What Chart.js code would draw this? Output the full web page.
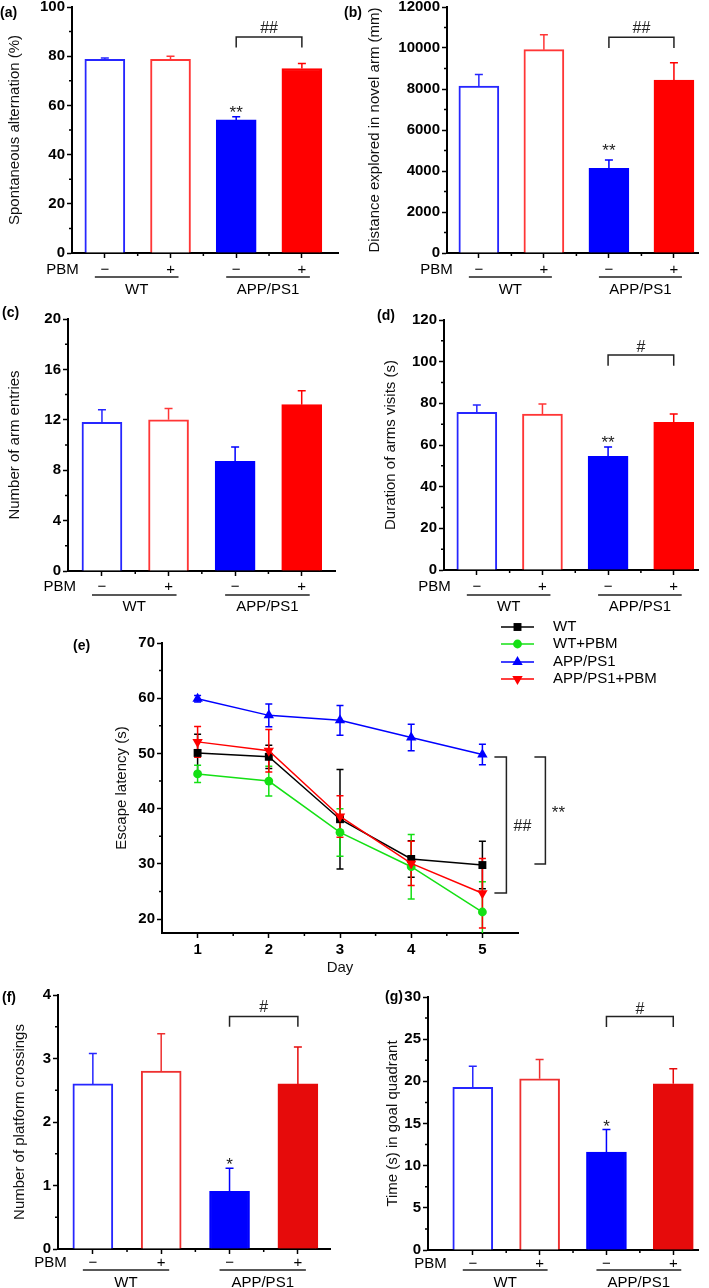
<!DOCTYPE html>
<html><head><meta charset="utf-8"><title>PBM behaviour</title>
<script src="https://cdn.jsdelivr.net/npm/chart.js@4.4.1/dist/chart.umd.min.js"></script>
<style>
html,body{margin:0;padding:0;background:#fff}
body{width:709px;height:1288px;position:relative;overflow:hidden}
canvas{position:absolute;display:block}
</style></head>
<body>
<canvas id="pa"></canvas><canvas id="pb"></canvas><canvas id="pc"></canvas><canvas id="pd"></canvas><canvas id="pe"></canvas><canvas id="pf"></canvas><canvas id="pg"></canvas>
<script>
// ---------------- data ----------------
const pbmTicks = ['\u2212', '+', '\u2212', '+'];
const genotypeGroups = ['WT', 'APP/PS1'];

const alternationMean = [78.7, 78.7, 54.1, 75.0];
const alternationSem  = [0.6, 1.3, 1.3, 2.0];
const distanceMean = [8140, 9920, 4135, 8430];
const distanceSem  = [570, 730, 405, 845];
const entriesMean = [11.8, 12.0, 8.7, 13.2];
const entriesSem  = [1.0, 0.9, 1.15, 1.1];
const durationMean = [75.7, 74.9, 54.6, 70.9];
const durationSem  = [3.5, 4.8, 4.4, 4.0];
const crossingsMean = [2.6, 2.8, 0.91, 2.6];
const crossingsSem  = [0.48, 0.59, 0.36, 0.58];
const quadrantMean = [19.3, 20.3, 11.6, 19.7];
const quadrantSem  = [2.5, 2.3, 2.7, 1.8];

const days = [1, 2, 3, 4, 5];
const seriesNames = ['WT', 'WT+PBM', 'APP/PS1', 'APP/PS1+PBM'];
const latencyWT       = [50.1, 49.4, 38.1, 30.9, 29.8];
const latencyWTSem    = [3.4, 2.1, 9.0, 3.3, 4.3];
const latencyWTPBM    = [46.3, 45.0, 35.7, 29.5, 21.3];
const latencyWTPBMSem = [1.55, 2.7, 4.3, 5.85, 5.5];
const latencyAPP      = [59.9, 56.9, 56.0, 52.9, 49.8];
const latencyAPPSem   = [0.6, 2.05, 2.7, 2.4, 1.85];
const latencyAPPPBM   = [52.1, 50.5, 38.6, 30.1, 24.7];
const latencyAPPPBMSem= [2.8, 3.85, 3.75, 4.0, 6.3];

// ---------------- helpers ----------------
const FONT = '"Liberation Sans", Arial, Helvetica, sans-serif';
const FS = 15;
Chart.defaults.font.family = FONT;

function place(id, c){ const cv=document.getElementById(id); cv.width=c.w; cv.height=c.h; cv.style.left=c.x+'px'; cv.style.top=c.y+'px'; cv.style.width=c.w+'px'; cv.style.height=c.h+'px'; return cv; }
function seq(a,b,s){ const r=[]; for(let k=0;;k++){ const v=a+k*s; if(v>b+1e-9)break; r.push(+v.toFixed(6)); } return r; }
function sigText(ctx, txt, x, cy, size, kind){
  ctx.font = size+'px '+FONT; ctx.textAlign='center'; ctx.textBaseline='alphabetic'; ctx.fillStyle='#222';
  const off = kind==='star' ? 0.575*size : 0.36*size;
  ctx.fillText(txt, x, cy+off);
}

function barPanel(p){
  const c=p.canvas, A=p.area, HX=30, lh=FS*1.2;
  const cv=place(p.id,c); const ox=c.x, oy=c.y;
  const extras={
    id:'extras',
    afterDatasetsDraw(chart){
      const ctx=chart.ctx, xs=chart.scales.x, ys=chart.scales.y;
      ctx.save(); ctx.lineWidth=1.5;
      p.mean.forEach((v,i)=>{
        const x=xs.getPixelForValue(i+1), y0=ys.getPixelForValue(v), y1=ys.getPixelForValue(v+p.sem[i]);
        ctx.strokeStyle=p.lines[i]; ctx.beginPath();
        ctx.moveTo(x,y0); ctx.lineTo(x,y1); ctx.moveTo(x-4,y1); ctx.lineTo(x+4,y1); ctx.stroke();
      });
      ctx.restore();
    },
    afterDraw(chart){
      const ctx=chart.ctx, xs=chart.scales.x, ys=chart.scales.y, ca=chart.chartArea;
      ctx.save();
      ctx.strokeStyle='#000'; ctx.lineWidth=1.5; ctx.beginPath();
      for(const v of seq(p.yMin+p.yMinor, p.yMax, 2*p.yMinor)){ const y=ys.getPixelForValue(v); ctx.moveTo(ca.left-3,y); ctx.lineTo(ca.left,y); }
      for(const v of [1.5,2.5,3.5]){ const x=xs.getPixelForValue(v); ctx.moveTo(x,ca.bottom); ctx.lineTo(x,ca.bottom+3); }
      ctx.stroke();
      ctx.fillStyle='#000'; ctx.font=FS+'px '+FONT; ctx.textAlign='right'; ctx.textBaseline='middle';
      ctx.fillText('PBM', xs.getPixelForValue(1)-26, ca.bottom+p.rowDy);
      const segs=[[1,2],[3,4]];
      ctx.strokeStyle='#222'; ctx.lineWidth=1.5; ctx.beginPath();
      segs.forEach(([i,j])=>{ const y=ca.bottom+p.lineDy; ctx.moveTo(xs.getPixelForValue(i)-10,y); ctx.lineTo(xs.getPixelForValue(j)+8,y); });
      ctx.stroke();
      ctx.textAlign='center'; ctx.fillStyle='#000';
      segs.forEach(([i,j],g)=>{ const xm=(xs.getPixelForValue(i)-10+xs.getPixelForValue(j)+8)/2; ctx.fillText(genotypeGroups[g], xm, ca.bottom+p.groupDy); });
      if(p.bracket){
        const b=p.bracket, x1=xs.getPixelForValue(3), x2=xs.getPixelForValue(4), yb=ys.getPixelForValue(b.y), yl=ys.getPixelForValue(b.leg);
        ctx.strokeStyle='#222'; ctx.lineWidth=1.5; ctx.beginPath();
        ctx.moveTo(x1,yl); ctx.lineTo(x1,yb); ctx.lineTo(x2,yb); ctx.lineTo(x2,yl); ctx.stroke();
        sigText(ctx, b.text, (x1+x2)/2, ys.getPixelForValue(b.textY), 16, 'hash');
      }
      if(p.star){ sigText(ctx, p.star.text, xs.getPixelForValue(p.star.idx+1), ys.getPixelForValue(p.star.y), 17, 'star'); }
      ctx.font='bold 14px '+FONT; ctx.textAlign='left'; ctx.textBaseline='middle'; ctx.fillStyle='#000';
      ctx.fillText(p.tag, p.tagX-ox, p.tagY-oy);
      ctx.restore();
    }
  };
  new Chart(cv,{
    type:'bar',
    data:{datasets:[{data:p.mean.map((v,i)=>({x:i+1,y:v})), backgroundColor:p.fills, borderColor:p.lines, borderWidth:2, borderSkipped:'start', barThickness:40}]},
    options:{
      responsive:false, animation:false, devicePixelRatio:1, events:[],
      layout:{padding:{left:0, top:A.t-oy, right:ox+c.w-A.r, bottom:oy+c.h-A.b-HX}},
      plugins:{legend:{display:false}, tooltip:{enabled:false}},
      scales:{
        x:{ type:'linear', position:'bottom', min:p.xMin, max:p.xMax, offset:false,
            afterBuildTicks(s){ s.ticks=[1,2,3,4].map(v=>({value:v})); },
            afterFit(s){ s.height=HX; },
            ticks:{ autoSkip:false, maxRotation:0, minRotation:0, padding:p.rowDy-12.5, color:'#000', font:{family:FONT,size:FS,lineHeight:1}, callback:(v,i)=>pbmTicks[i] },
            grid:{ display:true, offset:false, drawOnChartArea:false, drawTicks:true, tickLength:5, tickWidth:1.5, color:'#000' },
            border:{ display:true, color:'#000', width:2 } },
        y:{ type:'linear', position:'left', min:p.yMin, max:p.yMax,
            afterBuildTicks(s){ s.ticks=seq(p.yMin,p.yMax,p.yStep).map(v=>({value:v})); },
            afterFit(s){ s.width=A.l-ox; },
            ticks:{ padding:2, color:'#000', font:{family:FONT,size:FS,weight:'bold',lineHeight:1}, callback:v=>String(v) },
            grid:{ display:true, drawOnChartArea:false, drawTicks:true, tickLength:5, tickWidth:1.5, color:'#000' },
            border:{ display:true, color:'#000', width:2 },
            title:{ display:true, text:p.title, color:'#111', font:{family:FONT,size:FS}, padding:{top:p.titleX-ox-lh/2, bottom:0} } }
      }
    },
    plugins:[extras]
  });
}

const WHITE='#ffffff', BLUE='#0000ff', BLUE_L='#2626ff', RED='#ff0000', RED_L='#ff3636', RED2='#e60b0b', RED2_L='#ee3030';
const fillsA=[WHITE,WHITE,BLUE,RED], linesA=[BLUE_L,RED_L,BLUE,RED];
const fillsB=[WHITE,WHITE,BLUE,RED2], linesB=[BLUE_L,RED2_L,BLUE,RED2];

barPanel({id:'pa', canvas:{x:0,y:-8,w:346,h:308}, area:{l:72,t:7,r:338,b:253}, xMin:0.5, xMax:4.55,
  yMin:0,yMax:100,yStep:20,yMinor:10, mean:alternationMean, sem:alternationSem, fills:fillsA, lines:linesA,
  title:'Spontaneous alternation (%)', titleX:15, tag:'(a)', tagX:0, tagY:13, rowDy:17, lineDy:24, groupDy:37,
  bracket:{y:87.8, leg:83.5, text:'##', textY:91.6}, star:{idx:2, text:'**', y:58.8}});

barPanel({id:'pb', canvas:{x:340,y:-8,w:369,h:308}, area:{l:447,t:7,r:698,b:253}, xMin:0.51, xMax:4.37,
  yMin:0,yMax:12000,yStep:2000,yMinor:1000, mean:distanceMean, sem:distanceSem, fills:fillsA, lines:linesA,
  title:'Distance explored in novel arm (mm)', titleX:375, tag:'(b)', tagX:344, tagY:13, rowDy:17, lineDy:24, groupDy:37,
  bracket:{y:10524, leg:10005, text:'##', textY:11027}, star:{idx:2, text:'**', y:5221}});

barPanel({id:'pc', canvas:{x:0,y:300,w:346,h:316}, area:{l:68,t:319,r:335,b:571}, xMin:0.49, xMax:4.5,
  yMin:0,yMax:20,yStep:4,yMinor:2, mean:entriesMean, sem:entriesSem, fills:fillsA, lines:linesA,
  title:'Number of arm entries', titleX:15, tag:'(c)', tagX:2, tagY:313, rowDy:16, lineDy:24, groupDy:36});

barPanel({id:'pd', canvas:{x:340,y:300,w:369,h:316}, area:{l:444,t:320,r:698,b:570}, xMin:0.5, xMax:4.37,
  yMin:0,yMax:120,yStep:20,yMinor:10, mean:durationMean, sem:durationSem, fills:fillsA, lines:linesA,
  title:'Duration of arms visits (s)', titleX:391, tag:'(d)', tagX:377, tagY:316, rowDy:17, lineDy:25, groupDy:37,
  bracket:{y:103.2, leg:98.0, text:'#', textY:107.2}, star:{idx:2, text:'**', y:63.2}});

barPanel({id:'pf', canvas:{x:0,y:980,w:346,h:308}, area:{l:58,t:995,r:330,b:1249}, xMin:0.49, xMax:4.47,
  yMin:0,yMax:4,yStep:1,yMinor:0.5, mean:crossingsMean, sem:crossingsSem, fills:fillsB, lines:linesB,
  title:'Number of platform crossings', titleX:20, tag:'(f)', tagX:2, tagY:998, rowDy:14, lineDy:21, groupDy:34,
  bracket:{y:3.66, leg:3.50, text:'#', textY:3.82}, star:{idx:2, text:'*', y:1.40}});

barPanel({id:'pg', canvas:{x:340,y:980,w:369,h:308}, area:{l:428,t:997,r:698,b:1250}, xMin:0.33, xMax:4.37,
  yMin:0,yMax:30,yStep:5,yMinor:2.5, mean:quadrantMean, sem:quadrantSem, fills:fillsB, lines:linesB,
  title:'Time (s) in goal quadrant', titleX:393, tag:'(g)', tagX:385, tagY:997, rowDy:13.5, lineDy:20, groupDy:33,
  bracket:{y:27.7, leg:26.45, text:'#', textY:28.7}, star:{idx:2, text:'*', y:15.2}});

// ---------------- panel (e): escape latency ----------------
(function(){
  const c={x:55,y:612,w:654,h:374}, A={l:162,t:643,r:518,b:933}, HX=45, lh=FS*1.2;
  const cv=place('pe',c); const ox=c.x, oy=c.y;
  const series=[
    {mean:latencyWT,     sem:latencyWTSem,     color:'#000000', style:'rect',     rot:0,   r:5.6},
    {mean:latencyWTPBM,  sem:latencyWTPBMSem,  color:'#14e014', style:'circle',   rot:0,   r:4.4},
    {mean:latencyAPP,    sem:latencyAPPSem,    color:'#0000ff', style:'triangle', rot:0,   r:6},
    {mean:latencyAPPPBM, sem:latencyAPPPBMSem, color:'#ff0000', style:'triangle', rot:180, r:6}
  ];
  const brackets=[ {dx1:12, dx2:24, top:49.36, bottom:24.74, text:'##', tdx:40, ty:37.05},
                   {dx1:52, dx2:63, top:49.36, bottom:30.0,  text:'**', tdx:76, ty:40.1} ];
  function marker(ctx, s, x, y){
    ctx.beginPath();
    if(s.style==='rect'){ const h=s.r*Math.SQRT1_2; ctx.rect(x-h,y-h,2*h,2*h); }
    else if(s.style==='circle'){ ctx.arc(x,y,s.r,0,Math.PI*2); }
    else { let rad=s.rot*Math.PI/180; for(let k=0;k<3;k++){ const px=x+Math.sin(rad)*s.r, py=y-Math.cos(rad)*s.r; if(k)ctx.lineTo(px,py); else ctx.moveTo(px,py); rad+=2*Math.PI/3; } ctx.closePath(); }
    ctx.fillStyle=s.color; ctx.fill();
  }
  const extras={
    id:'extrasE',
    beforeDatasetsDraw(chart){
      const ctx=chart.ctx, xs=chart.scales.x, ys=chart.scales.y, ca=chart.chartArea;
      ctx.save(); ctx.beginPath(); ctx.rect(ca.left,0,ca.right-ca.left+10,ca.bottom); ctx.clip();
      ctx.lineWidth=1.5;
      series.forEach(s=>{
        ctx.strokeStyle=s.color; ctx.beginPath();
        s.mean.forEach((v,i)=>{
          const x=xs.getPixelForValue(days[i]), y1=ys.getPixelForValue(v+s.sem[i]), y2=ys.getPixelForValue(v-s.sem[i]);
          ctx.moveTo(x,y1); ctx.lineTo(x,y2); ctx.moveTo(x-3.5,y1); ctx.lineTo(x+3.5,y1); ctx.moveTo(x-3.5,y2); ctx.lineTo(x+3.5,y2);
        });
        ctx.stroke();
      });
      ctx.restore();
    },
    afterDraw(chart){
      const ctx=chart.ctx, xs=chart.scales.x, ys=chart.scales.y, ca=chart.chartArea;
      ctx.save();
      ctx.strokeStyle='#000'; ctx.lineWidth=1.5; ctx.beginPath();
      for(const v of [25,35,45,55,65]){ const y=ys.getPixelForValue(v); ctx.moveTo(ca.left-3,y); ctx.lineTo(ca.left,y); }
      for(const v of [1.5,2.5,3.5,4.5]){ const x=xs.getPixelForValue(v); ctx.moveTo(x,ca.bottom); ctx.lineTo(x,ca.bottom+3); }
      ctx.stroke();
      const x5=xs.getPixelForValue(5);
      brackets.forEach(b=>{
        const x1=x5+b.dx1, x2=x5+b.dx2, yt=ys.getPixelForValue(b.top), yb=ys.getPixelForValue(b.bottom);
        ctx.strokeStyle='#222'; ctx.lineWidth=1.5; ctx.beginPath();
        ctx.moveTo(x1,yt); ctx.lineTo(x2,yt); ctx.lineTo(x2,yb); ctx.lineTo(x1,yb); ctx.stroke();
        sigText(ctx, b.text, x5+b.tdx, ys.getPixelForValue(b.ty), b.text==='**'?17:16, b.text==='**'?'star':'hash');
      });
      const rows=[627,644,662,679];
      series.forEach((s,k)=>{
        const y=rows[k]-oy;
        ctx.strokeStyle=s.color; ctx.lineWidth=1.5; ctx.beginPath(); ctx.moveTo(501-ox,y); ctx.lineTo(534-ox,y); ctx.stroke();
        marker(ctx, s, 517.5-ox, y);
        ctx.fillStyle='#000'; ctx.font=FS+'px '+FONT; ctx.textAlign='left'; ctx.textBaseline='middle';
        ctx.fillText(seriesNames[k], 553-ox, y);
      });
      ctx.font='bold 14px '+FONT; ctx.textAlign='left'; ctx.textBaseline='middle'; ctx.fillStyle='#000';
      ctx.fillText('(e)', 73-ox, 646-oy);
      ctx.restore();
    }
  };
  new Chart(cv,{
    type:'line',
    data:{datasets: series.map((s,k)=>({
      label:seriesNames[k], data:days.map((d,i)=>({x:d,y:s.mean[i]})),
      borderColor:s.color, backgroundColor:s.color, pointBackgroundColor:s.color, pointBorderColor:s.color,
      pointStyle:s.style, pointRotation:s.rot, pointRadius:s.r, pointBorderWidth:0, borderWidth:1.5, tension:0, fill:false,
      order: [3,2,1,0][k]
    }))},
    options:{
      responsive:false, animation:false, devicePixelRatio:1, events:[],
      layout:{padding:{left:0, top:A.t-oy, right:ox+c.w-A.r, bottom:oy+c.h-A.b-HX}},
      plugins:{legend:{display:false}, tooltip:{enabled:false}},
      scales:{
        x:{ type:'linear', position:'bottom', min:0.5, max:5.5,
            afterBuildTicks(s){ s.ticks=days.map(v=>({value:v})); },
            afterFit(s){ s.height=HX; },
            ticks:{ autoSkip:false, maxRotation:0, padding:4.5, color:'#000', font:{family:FONT,size:FS,weight:'bold',lineHeight:1}, callback:v=>String(v) },
            grid:{ display:true, drawOnChartArea:false, drawTicks:true, tickLength:5, tickWidth:1.5, color:'#000' },
            border:{ display:true, color:'#000', width:2 },
            title:{ display:true, text:'Day', color:'#111', font:{family:FONT,size:FS}, padding:{top:0, bottom:(A.b+HX)-968-lh/2} } },
        y:{ type:'linear', position:'left', min:17.5, max:70,
            afterBuildTicks(s){ s.ticks=seq(20,70,10).map(v=>({value:v})); },
            afterFit(s){ s.width=A.l-ox; },
            ticks:{ padding:2, color:'#000', font:{family:FONT,size:FS,weight:'bold',lineHeight:1}, callback:v=>String(v) },
            grid:{ display:true, drawOnChartArea:false, drawTicks:true, tickLength:5, tickWidth:1.5, color:'#000' },
            border:{ display:true, color:'#000', width:2 },
            title:{ display:true, text:'Escape latency (s)', color:'#111', font:{family:FONT,size:FS}, padding:{top:122-ox-lh/2, bottom:0} } }
      }
    },
    plugins:[extras]
  });
})();
</script>
</body></html>
